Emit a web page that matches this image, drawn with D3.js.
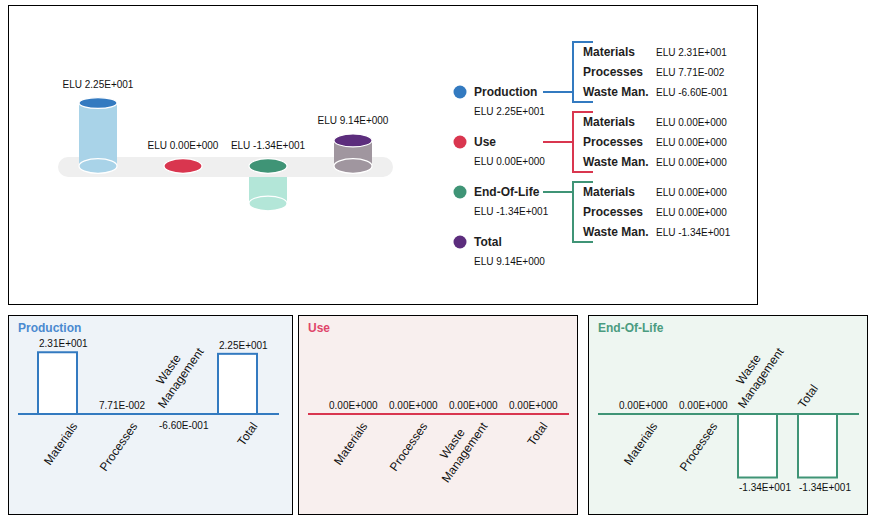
<!DOCTYPE html>
<html><head><meta charset="utf-8">
<script src="https://cdn.jsdelivr.net/npm/d3@7"></script>
<style>
body{margin:0;background:#fff;}
svg{display:block;font-family:"Liberation Sans",Arial,sans-serif;}
</style>
</head><body>
<svg id="c" width="873" height="524"></svg>
<script>
// ---------- data ----------
const stages = ["Production", "Use", "End-Of-Life", "Total"];
const subcategories = ["Materials", "Processes", "Waste Man."];
const panelCategories = ["Materials", "Processes", "Waste Management", "Total"];
const productionValues = [23.1, 0.0771, -0.66];
const useValues = [0, 0, 0];
const endOfLifeValues = [0, 0, -13.38];

// ---------- styles ----------
const stageColors = ["#337ac0", "#d9364f", "#3f9476", "#5c2d7d"];
const bodyColors = ["#a9d3e8", "#f2b3bd", "#b3e6d8", "#a0969f"];
const panelBg = ["#eef3f8", "#f8efee", "#eef6f1"];
const titleColors = ["#4a8ad0", "#e0456a", "#4a9c80"];

const fmt = v => {
  const [m, e] = v.toExponential(2).split("e");
  return m + "E" + e[0] + String(Math.abs(+e)).padStart(3, "0");
};

const stageSeries = [productionValues, useValues, endOfLifeValues];
const stageValues = stageSeries.map(a => d3.sum(a));
stageValues.push(d3.sum(stageValues));

const svg = d3.select("#c");

// ---------- top panel ----------
svg.append("rect").attr("x", 8.5).attr("y", 5.5).attr("width", 749).attr("height", 299)
  .attr("fill", "#fff").attr("stroke", "#000").attr("stroke-width", 1);

const base = 166, rx = 19;
const cx = d3.scalePoint().domain(stages).range([98, 353]);
const hScale = d3.scaleLinear().domain([0, d3.max(stageValues, Math.abs)]).range([0, 63]);
const ryOf = v => v > 0 ? 7.3 - 0.03 * hScale(v) : 7.3;

const cyl = stages.map((s, i) => ({ s, i, v: stageValues[i], x: cx(s), h: hScale(Math.abs(stageValues[i])) }));
const topG = svg.append("g");

function drawBody(g, d) {
  if (d.h === 0) return;
  const y1 = d.v > 0 ? base - d.h : base;
  g.append("rect").attr("x", d.x - rx).attr("y", y1).attr("width", rx * 2).attr("height", d.h)
    .attr("fill", bodyColors[d.i]);
  const by = d.v > 0 ? base : base + d.h;
  g.append("ellipse").attr("cx", d.x).attr("cy", by).attr("rx", rx).attr("ry", 7.3)
    .attr("fill", bodyColors[d.i]).attr("stroke", "#fff").attr("stroke-width", 1.2);
}
// underground bodies first
cyl.filter(d => d.v < 0).forEach(d => drawBody(topG, d));
// track
topG.append("rect").attr("x", 58).attr("y", 157).attr("width", 335).attr("height", 20)
  .attr("rx", 10).attr("fill", "#efefef");
cyl.filter(d => d.v > 0).forEach(d => drawBody(topG, d));
cyl.forEach(d => {
  const ty = d.v > 0 ? base - d.h : base;
  const ry = ryOf(d.v);
  topG.append("ellipse").attr("cx", d.x).attr("cy", ty).attr("rx", rx).attr("ry", ry)
    .attr("fill", stageColors[d.i]).attr("stroke", "#fff").attr("stroke-width", 1.2);
  topG.append("text").attr("x", d.x).attr("y", ty - ry - 10).attr("text-anchor", "middle")
    .attr("font-size", 10).attr("fill", "#111").text("ELU " + fmt(d.v));
});

// legend
const legY = d3.scalePoint().domain(stages).range([92, 242]);
stages.forEach((s, i) => {
  const y = legY(s);
  svg.append("circle").attr("cx", 460).attr("cy", y).attr("r", 6.5).attr("fill", stageColors[i]);
  svg.append("text").attr("x", 474).attr("y", y + 4).attr("font-size", 12).attr("font-weight", "bold")
    .attr("fill", "#1e1e1e").text(s);
  svg.append("text").attr("x", 474).attr("y", y + 23).attr("font-size", 10)
    .attr("fill", "#111").text("ELU " + fmt(stageValues[i]));
});

// brackets
const groupTop = d3.scalePoint().domain(stages.slice(0, 3)).range([52, 192]);
stageSeries.forEach((vals, i) => {
  const s = stages[i];
  const r0 = groupTop(s);
  const rowY = d3.scalePoint().domain(subcategories).range([r0, r0 + 40]);
  const yTop = r0 - 10, yBot = r0 + 50, ly = legY(s);
  svg.append("path")
    .attr("d", `M593,${yTop}H573V${yBot}H593M543,${ly}H573`)
    .attr("fill", "none").attr("stroke", stageColors[i]).attr("stroke-width", 2);
  subcategories.forEach((c, j) => {
    const y = rowY(c);
    svg.append("text").attr("x", 583).attr("y", y + 4).attr("font-size", 12).attr("font-weight", "bold")
      .attr("fill", "#1e1e1e").text(c);
    svg.append("text").attr("x", 656).attr("y", y + 4).attr("font-size", 10)
      .attr("fill", "#111").text("ELU " + fmt(vals[j]));
  });
});

// ---------- bottom panels ----------
const panelX = [8, 298, 588];
const panelW = [285, 280, 280];
const axisY = 414;
stageSeries.forEach((vals, i) => {
  const x0 = panelX[i];
  const g = svg.append("g");
  g.append("rect").attr("x", x0 + 0.5).attr("y", 315.5).attr("width", panelW[i] - 1).attr("height", 199)
    .attr("fill", panelBg[i]).attr("stroke", "#000").attr("stroke-width", 1);
  g.append("text").attr("x", x0 + 10).attr("y", 332).attr("font-size", 12).attr("font-weight", "bold")
    .attr("fill", titleColors[i]).text(stages[i]);

  const all = vals.concat([stageValues[i]]);
  const lo = Math.min(0, d3.min(all)), hi = Math.max(0, d3.max(all));
  const span = (hi - lo) || 1;
  const y = d3.scaleLinear().domain([-span, span]).range([axisY + 63.5, axisY - 63.5]);
  const xb = d3.scaleBand().domain(panelCategories).range([x0 + 19.5, x0 + 259.5])
    .paddingInner(0.35).paddingOuter(0.175);
  const bw = xb.bandwidth();

  panelCategories.forEach((c, j) => {
    const v = all[j];
    const bx = xb(c);
    const yv = y(v), y0 = y(0);
    if (Math.abs(yv - y0) >= 2) {
      g.append("rect").attr("x", bx).attr("y", Math.min(yv, y0)).attr("width", bw)
        .attr("height", Math.abs(yv - y0)).attr("fill", "#fff")
        .attr("stroke", stageColors[i]).attr("stroke-width", 2);
    }
  });
  g.append("line").attr("x1", x0 + 10).attr("x2", x0 + 271).attr("y1", axisY).attr("y2", axisY)
    .attr("stroke", stageColors[i]).attr("stroke-width", 2);

  panelCategories.forEach((c, j) => {
    const v = all[j];
    const bx = xb(c);
    const yv = y(v);
    g.append("text").attr("x", bx + 1).attr("y", v < 0 ? Math.max(yv, axisY) + 13 : yv - 5)
      .attr("font-size", 10).attr("fill", "#111").text(fmt(v));
    // category label
    const lines = c.split(" ");
    const above = v < 0;
    const ax = above ? bx + 6 : bx + bw + 1;
    const ay = above ? axisY - 5 : axisY + 12;
    const lg = g.append("g").attr("transform", `translate(${ax},${ay}) rotate(-55)`);
    if (lines.length === 1) {
      lg.append("text").attr("text-anchor", above ? "start" : "end").attr("font-size", 12)
        .attr("fill", "#111").text(c);
    } else {
      const last = lg.append("text").attr("font-size", 12).attr("fill", "#111").text(lines[lines.length - 1]);
      const w = last.node().getComputedTextLength();
      const mid = above ? w / 2 : -w / 2;
      last.attr("text-anchor", "middle").attr("x", mid);
      lines.slice(0, -1).forEach((t, k) => {
        lg.append("text").attr("text-anchor", "middle").attr("x", mid)
          .attr("y", -15 * (lines.length - 1 - k)).attr("font-size", 12).attr("fill", "#111").text(t);
      });
    }
  });
});
</script>
</body></html>
